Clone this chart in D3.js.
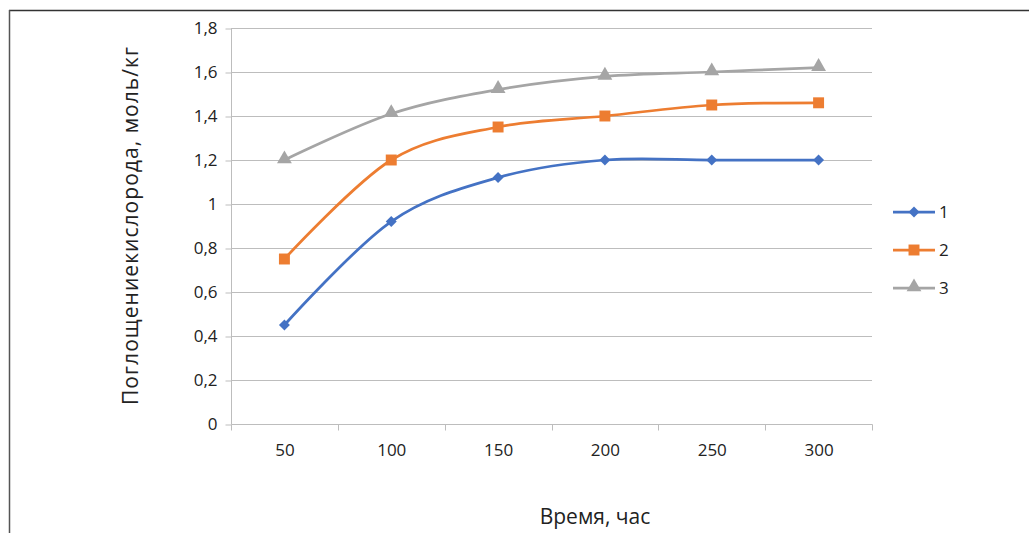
<!DOCTYPE html>
<html>
<head>
<meta charset="utf-8">
<script src="https://cdn.jsdelivr.net/npm/d3@7"></script>
<style>
  html, body { margin: 0; padding: 0; background: #fff; }
  svg { display: block; }
  text { font-family: "Open Sans", "Noto Sans", sans-serif; fill: #222; }
</style>
</head>
<body>
<svg id="chart" width="1029" height="533"></svg>
<script>
const categories = ["50", "100", "150", "200", "250", "300"];
const series1 = [0.45, 0.92, 1.12, 1.2, 1.2, 1.2];
const series2 = [0.75, 1.2, 1.35, 1.4, 1.45, 1.46];
const series3 = [1.2, 1.41, 1.52, 1.58, 1.6, 1.62];
const seriesNames = ["1", "2", "3"];
const yTicks = [0, 0.2, 0.4, 0.6, 0.8, 1.0, 1.2, 1.4, 1.6, 1.8];
const xTitle = "Время, час";
const yTitle = "Поглощениекислорода, моль/кг";

const svg = d3.select("#chart");
const W = 1029, H = 533;
const plot = { left: 231, right: 872, top: 28, bottom: 424 };

// frame
svg.append("line").attr("x1", 9).attr("x2", W).attr("y1", 10.5).attr("y2", 10.5)
  .attr("stroke", "#333").attr("stroke-width", 1.5);
svg.append("line").attr("x1", 9.5).attr("x2", 9.5).attr("y1", 10).attr("y2", H)
  .attr("stroke", "#555").attr("stroke-width", 1.5);

const x = d3.scaleBand().domain(categories).range([plot.left, plot.right]).padding(0);
const y = d3.scaleLinear().domain([0, 1.8]).range([plot.bottom, plot.top]);
const fmt = v => (v === 0 ? "0" : (Number.isInteger(v) ? String(v) : d3.format(".1f")(v).replace(".", ",")));

// gridlines
svg.append("g").selectAll("line").data(yTicks.filter(t => t > 0)).join("line")
  .attr("x1", plot.left).attr("x2", plot.right)
  .attr("y1", d => Math.round(y(d)) + 0.5).attr("y2", d => Math.round(y(d)) + 0.5)
  .attr("stroke", "#bdbdbd").attr("stroke-width", 1);

// y axis
const yAxis = svg.append("g").attr("transform", `translate(${plot.left + 0.5},0.5)`)
  .call(d3.axisLeft(y).tickValues(yTicks).tickFormat(fmt).tickSize(6).tickPadding(8));
yAxis.select(".domain").attr("stroke", "#bdbdbd").attr("d", `M0,${plot.top}V${plot.bottom}`);
yAxis.selectAll(".tick line").attr("stroke", "#bdbdbd");
yAxis.selectAll("text").attr("font-size", 17).attr("fill", "#222")
  .attr("font-family", "Open Sans, Noto Sans, sans-serif");

// x axis
const xAxis = svg.append("g").attr("transform", `translate(0.5,${plot.bottom + 0.5})`)
  .call(d3.axisBottom(x).tickSize(0).tickPadding(19));
xAxis.select(".domain").attr("stroke", "#bdbdbd").attr("d", `M${plot.left},0H${plot.right}`);
xAxis.selectAll("text").attr("font-size", 17).attr("fill", "#222")
  .attr("font-family", "Open Sans, Noto Sans, sans-serif");
// boundary ticks between categories
const bounds = categories.map(c => x(c)).concat([x(categories[categories.length - 1]) + x.bandwidth()]);
xAxis.append("g").selectAll("line").data(bounds).join("line")
  .attr("x1", d => Math.round(d)).attr("x2", d => Math.round(d))
  .attr("y1", 0).attr("y2", 6).attr("stroke", "#bdbdbd");

// series
const colors = ["#4472C4", "#ED7D31", "#A5A5A5"];
const allSeries = [series1, series2, series3];
const cx = c => x(c) + x.bandwidth() / 2;
const line = d3.line().x((d, i) => cx(categories[i])).y(d => y(d)).curve(d3.curveCardinal.tension(0));
const symbolSizes = [60, 120, 95];

function marker(g, k, px, py) {
  const type = k === 2 ? d3.symbolTriangle : d3.symbolSquare;
  const sym = d3.symbol().type(type).size(symbolSizes[k]);
  const rot = k === 0 ? " rotate(45)" : "";
  g.append("path").attr("d", sym())
    .attr("transform", `translate(${px},${py + (k === 2 ? -1 : 0)})${rot}`)
    .attr("fill", colors[k]).attr("stroke", "none");
}

allSeries.forEach((vals, k) => {
  svg.append("path").datum(vals).attr("d", line)
    .attr("fill", "none").attr("stroke", colors[k]).attr("stroke-width", 2.75)
    .attr("stroke-linecap", "round");
  const g = svg.append("g");
  vals.forEach((v, i) => marker(g, k, cx(categories[i]), y(v)));
});

// legend
const legY = [212, 250, 288];
seriesNames.forEach((name, k) => {
  const g = svg.append("g");
  g.append("line").attr("x1", 893).attr("x2", 935).attr("y1", legY[k]).attr("y2", legY[k])
    .attr("stroke", colors[k]).attr("stroke-width", 2.75);
  marker(g, k, 914, legY[k]);
  g.append("text").attr("x", 939).attr("y", legY[k]).attr("dy", "0.35em")
    .attr("font-size", 17).text(name);
});

// axis titles
svg.append("text").attr("x", 595).attr("y", 524).attr("text-anchor", "middle")
  .attr("font-size", 21).text(xTitle);
svg.append("text").attr("transform", "translate(138,226) rotate(-90)")
  .attr("text-anchor", "middle").attr("font-size", 21)
  .attr("textLength", 358).attr("lengthAdjust", "spacing").text(yTitle);
</script>
</body>
</html>
